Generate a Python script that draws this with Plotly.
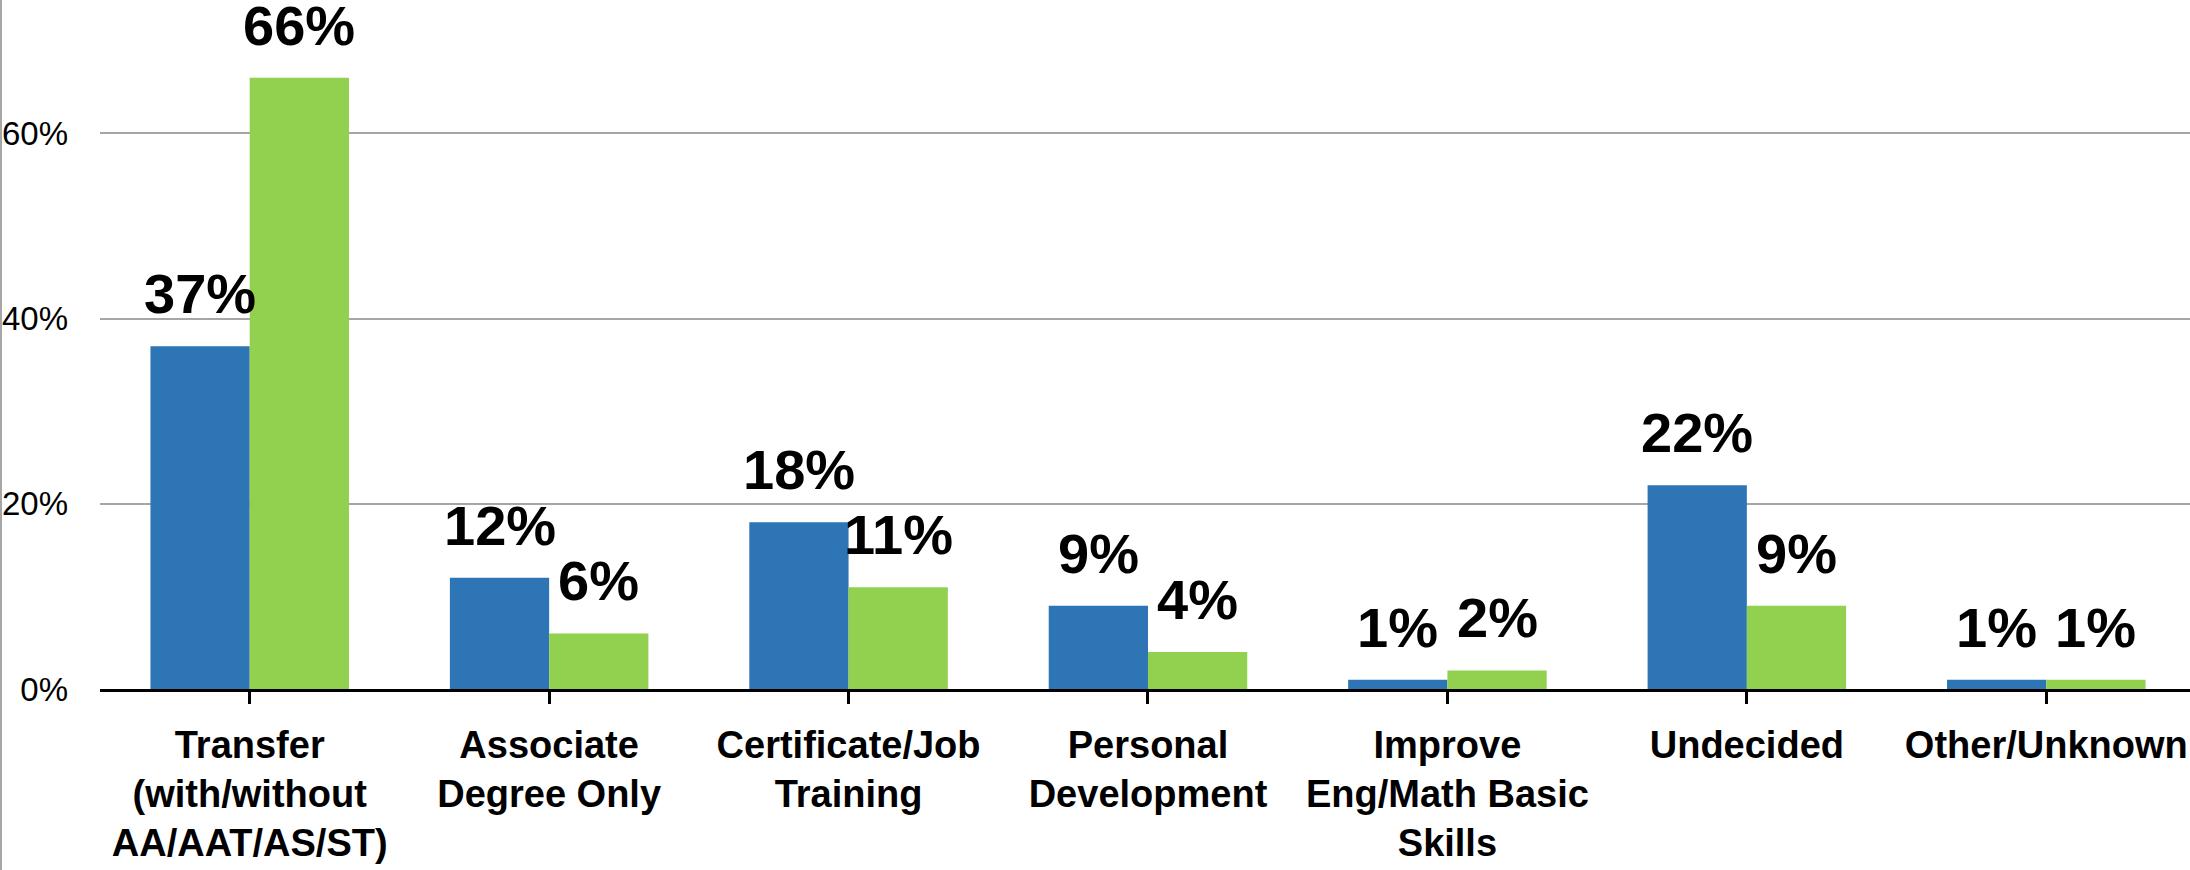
import plotly.graph_objects as go

categories = [
    "Transfer<br>(with/without<br>AA/AAT/AS/ST)",
    "Associate<br>Degree Only",
    "Certificate/Job<br>Training",
    "Personal<br>Development",
    "Improve<br>Eng/Math Basic<br>Skills",
    "Undecided",
    "Other/Unknown",
]
series_blue = [37, 12, 18, 9, 1, 22, 1]
series_green = [66, 6, 11, 4, 2, 9, 1]
y_ticks = [0, 20, 40, 60]
y_tick_labels = ["0%", "20%", "40%", "60%"]

BOLD_FONT = "Liberation Sans, Arial, sans-serif"
BARGAP = 0.337
colors = ["#2E75B6", "#92D050"]
all_series = [series_blue, series_green]

fig = go.Figure()
x_idx = list(range(len(categories)))
for vals, color in zip(all_series, colors):
    fig.add_trace(go.Bar(
        x=x_idx,
        y=vals,
        marker=dict(color=color, line=dict(width=0)),
        showlegend=False,
        hoverinfo="skip",
    ))

# data labels above each bar (group offsets derived from the bar gap)
bar_w = (1 - BARGAP) / len(all_series)
annotations = []
for s, vals in enumerate(all_series):
    off = (s - (len(all_series) - 1) / 2) * bar_w
    for i, v in enumerate(vals):
        annotations.append(dict(
            x=i + off, y=v, xref="x", yref="y",
            text=f"{v}%", showarrow=False,
            xanchor="center", yanchor="bottom", yshift=19,
            font=dict(family=BOLD_FONT, size=56, color="black", weight="bold"),
        ))

fig.update_layout(
    width=2190,
    height=870,
    margin=dict(l=100, r=0, t=0, b=181),
    paper_bgcolor="white",
    plot_bgcolor="white",
    barmode="group",
    bargap=BARGAP,
    bargroupgap=0,
    annotations=annotations,
    xaxis=dict(
        tickmode="array",
        tickvals=x_idx,
        ticktext=categories,
        range=[-0.5, 6.48],
        tickson="boundaries",
        ticks="outside",
        ticklen=12,
        tickwidth=3,
        tickcolor="black",
        showline=True,
        linecolor="black",
        linewidth=3,
        showgrid=False,
        tickangle=0,
        automargin=False,
        ticklabeloverflow="allow",
        ticklabelstandoff=8,
        tickfont=dict(family=BOLD_FONT, size=38, color="black", weight="bold"),
    ),
    yaxis=dict(
        range=[0, 74.4],
        tickmode="array",
        tickvals=y_ticks,
        ticktext=y_tick_labels,
        showgrid=True,
        gridcolor="#A6A6A6",
        gridwidth=2,
        zeroline=False,
        showline=False,
        ticks="",
        automargin=False,
        ticklabelstandoff=31,
        tickfont=dict(family="Liberation Sans, Arial, sans-serif", size=33, color="black"),
    ),
    shapes=[dict(
        type="line", xref="paper", yref="paper",
        x0=-99 / 2090, x1=-99 / 2090, y0=-181 / 689, y1=1,
        line=dict(color="#A6A6A6", width=2),
    )],
)

fig.write_html(
    "out.html",
    config={"displayModeBar": False},
    post_script="document.body.style.margin='0';document.body.style.overflow='hidden';",
)
